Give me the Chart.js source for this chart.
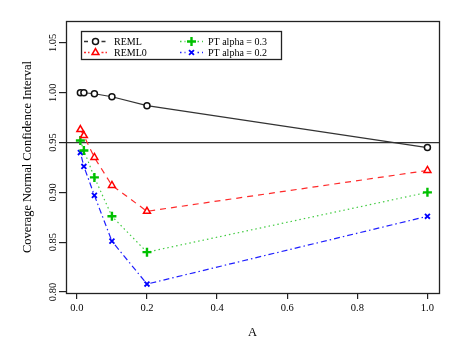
<!DOCTYPE html>
<html>
<head>
<meta charset="utf-8">
<script src="https://cdn.jsdelivr.net/npm/chart.js@4/dist/chart.umd.min.js"></script>
<style>
html,body{margin:0;padding:0;background:#fff;}
</style>
</head>
<body>
<canvas id="c" width="461" height="344"></canvas>
<script>
const aValues=[0.01,0.02,0.05,0.1,0.2,1.0];
const reml=[1.000,1.000,0.999,0.996,0.987,0.945];
const reml0=[0.963,0.957,0.935,0.907,0.881,0.922];
const pt03=[0.952,0.942,0.915,0.876,0.840,0.900];
const pt02=[0.940,0.926,0.897,0.851,0.808,0.876];
const seriesNames=["REML","REML0","PT alpha = 0.3","PT alpha = 0.2"];
const xTicks=[0,0.2,0.4,0.6,0.8,1.0];
const yTicks=[0.80,0.85,0.90,0.95,1.00,1.05];
const refLine=0.95;
const xMin=-0.031,xMax=1.033,yMin=0.799,yMax=1.072;

Chart.defaults.font.family="'Liberation Serif', 'Times New Roman', serif";
Chart.defaults.color="#000";

function pts(vals){return aValues.map((a,i)=>({x:a,y:vals[i]}));}

const ink="#222";

/* box round the plot + boxed legend */
const boxPlugin={
id:"box",
afterDatasetsDraw(chart){
let a=chart.chartArea,ctx=chart.ctx;
ctx.save();
ctx.strokeStyle=ink;ctx.lineWidth=1.3;
ctx.strokeRect(Math.round(a.left)+0.5,Math.round(a.top)+0.5,Math.round(a.right-a.left),Math.round(a.bottom-a.top));
ctx.restore();
},
afterDraw(chart){
let ctx=chart.ctx;
ctx.save();
ctx.fillStyle="#fff";ctx.fillRect(81,31,200,28);
ctx.strokeStyle=ink;ctx.lineWidth=1.3;ctx.strokeRect(81.5,31.5,200,28);
let cols=[[84,107,114],[180,203,208]],rows=[41,52];
chart.data.datasets.slice(0,4).forEach((ds,i)=>{
let c=cols[Math.floor(i/2)],y=rows[i%2],mid=(c[0]+c[1])/2;
ctx.save();
ctx.strokeStyle=ds.borderColor;ctx.lineWidth=ds.borderWidth+0.4;
ctx.setLineDash(ds.legendDash||[]);
ctx.beginPath();
ctx.moveTo(c[0],y+0.5);ctx.lineTo(mid-6,y+0.5);
ctx.moveTo(mid+6,y+0.5);ctx.lineTo(c[1],y+0.5);
ctx.stroke();
ctx.setLineDash([]);
ctx.fillStyle="#fff";ctx.strokeStyle=ds.pointBorderColor;ctx.lineWidth=ds.pointBorderWidth;
Chart.helpers.drawPoint(ctx,{pointStyle:ds.pointStyle,radius:ds.pointRadius,rotation:0,borderWidth:ds.pointBorderWidth},mid,y+0.5);
ctx.restore();
ctx.fillStyle="#000";ctx.font="10px 'Liberation Serif', serif";
ctx.textBaseline="middle";ctx.textAlign="left";
ctx.fillText(ds.label,c[2],y+1);
});
ctx.restore();
}
};

new Chart(document.getElementById("c"),{
type:"line",
data:{datasets:[
{label:seriesNames[0],data:pts(reml),borderColor:"#333",borderWidth:1.2,legendDash:[4,2],pointStyle:"circle",pointRadius:3,pointBorderColor:"#111",pointBackgroundColor:"#fff",pointBorderWidth:1.5},
{label:seriesNames[1],data:pts(reml0),borderColor:"#ff2a2a",borderWidth:1.2,borderDash:[6,5],legendDash:[2,2],pointStyle:"triangle",pointRadius:4,pointBorderColor:"#ff0000",pointBackgroundColor:"#fff",pointBorderWidth:1.5},
{label:seriesNames[2],data:pts(pt03),borderColor:"#44cc44",borderWidth:1.2,borderDash:[1.5,3],legendDash:[1.5,3],pointStyle:"cross",pointRadius:4.5,pointBorderColor:"#00c000",pointBackgroundColor:"#fff",pointBorderWidth:2.4},
{label:seriesNames[3],data:pts(pt02),borderColor:"#2020ff",borderWidth:1.2,borderDash:[1.5,3,6,3],legendDash:[1.5,3],pointStyle:"crossRot",pointRadius:3.5,pointBorderColor:"#0000ff",pointBackgroundColor:"#fff",pointBorderWidth:1.8},
{label:"ref",data:[{x:xMin,y:refLine},{x:xMax,y:refLine}],borderColor:"#333",borderWidth:1.3,pointRadius:0,order:1}
]},
options:{
responsive:false,
animation:false,
events:[],
layout:{padding:{top:21,right:22,left:0,bottom:0}},
plugins:{legend:{display:false},tooltip:{enabled:false}},
scales:{
x:{type:"linear",min:xMin,max:xMax,
afterBuildTicks(s){s.ticks=xTicks.map(v=>({value:v}));},
afterFit(s){s.height=51;},
grid:{drawOnChartArea:false,drawTicks:true,tickLength:6,color:ink,lineWidth:1.2},
border:{display:false},
ticks:{padding:3,font:{size:10.5},callback:v=>v.toFixed(1),maxRotation:0},
title:{display:true,text:"A",font:{size:12.5},padding:{top:0,bottom:4}}
},
y:{type:"linear",min:yMin,max:yMax,
afterBuildTicks(s){s.ticks=yTicks.map(v=>({value:v}));},
afterFit(s){s.width=66;},
grid:{drawOnChartArea:false,drawTicks:true,tickLength:7,color:ink,lineWidth:1.2},
border:{display:false},
ticks:{padding:-3,minRotation:90,maxRotation:90,crossAlign:"center",font:{size:10.5},callback:v=>v.toFixed(2)},
title:{display:true,text:"Coverage Normal Confidence Interval",font:{size:12.5},padding:{top:20,bottom:0}}
}
}
},
plugins:[boxPlugin]
});
</script>
</body>
</html>
